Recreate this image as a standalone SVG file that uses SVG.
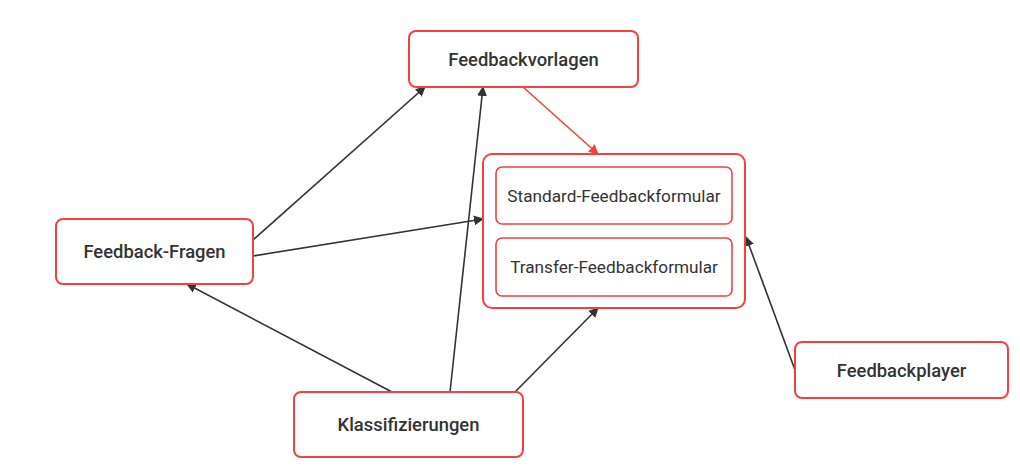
<svg xmlns="http://www.w3.org/2000/svg" width="1020" height="466" viewBox="0 0 1020 466">
<style>
.n{fill:#fff;stroke:#f5413d;stroke-width:2}
.i{fill:#fff;stroke:#f5413d;stroke-width:1.6}
.t{font-family:Roboto,"Liberation Sans",sans-serif;font-size:18.4px;font-weight:500;fill:#333;text-anchor:middle;dominant-baseline:central}
.ti{font-family:Roboto,"Liberation Sans",sans-serif;font-size:17.2px;fill:#333;text-anchor:middle;dominant-baseline:central}
.e{fill:none;stroke:#333;stroke-width:1.6}
.er{fill:none;stroke:#f5413d;stroke-width:1.6}
</style>
<defs>
<marker id="a" viewBox="0 0 10 10" refX="9" refY="5" markerWidth="10" markerHeight="10" markerUnits="userSpaceOnUse" orient="auto"><path d="M0,0 L10,5 L0,10 z" fill="#333"/></marker>
<marker id="ar" viewBox="0 0 10 10" refX="9" refY="5" markerWidth="10" markerHeight="10" markerUnits="userSpaceOnUse" orient="auto"><path d="M0,0 L10,5 L0,10 z" fill="#f5413d"/></marker>
</defs>
<rect width="1020" height="466" fill="#fff"/>
<g id="connectors">
<line class="e" x1="253" y1="240" x2="425" y2="87" marker-end="url(#a)"/>
<line class="e" x1="253" y1="256" x2="483" y2="219" marker-end="url(#a)"/>
<line class="e" x1="392" y1="392" x2="187" y2="284" marker-end="url(#a)"/>
<line class="e" x1="450" y1="392" x2="483" y2="87" marker-end="url(#a)"/>
<line class="e" x1="515" y1="392" x2="598" y2="308" marker-end="url(#a)"/>
<line class="e" x1="795" y1="370" x2="746" y2="237" marker-end="url(#a)"/>
<line class="er" x1="523" y1="87" x2="598" y2="154" marker-end="url(#ar)"/>
</g>
<g id="feedbackvorlagen">
<rect class="n" x="409" y="31" width="229" height="56" rx="7"/>
<text class="t" x="523.5" y="59">Feedbackvorlagen</text>
</g>
<g id="formulare">
<rect class="n" x="483" y="154" width="262" height="154" rx="9"/>
<g id="standard">
<rect class="i" x="496" y="167" width="236" height="57" rx="6"/>
<text class="ti" x="614" y="195.5">Standard-Feedbackformular</text>
</g>
<g id="transfer">
<rect class="i" x="496" y="238" width="236" height="58" rx="6"/>
<text class="ti" x="614" y="267">Transfer-Feedbackformular</text>
</g>
</g>
<g id="feedback-fragen">
<rect class="n" x="56" y="219" width="197" height="65" rx="7"/>
<text class="t" x="154.5" y="251.5">Feedback-Fragen</text>
</g>
<g id="klassifizierungen">
<rect class="n" x="294" y="392" width="229" height="65" rx="7"/>
<text class="t" x="408.5" y="424.5">Klassifizierungen</text>
</g>
<g id="feedbackplayer">
<rect class="n" x="795" y="342" width="213" height="56" rx="7"/>
<text class="t" x="901.5" y="370">Feedbackplayer</text>
</g>
</svg>
